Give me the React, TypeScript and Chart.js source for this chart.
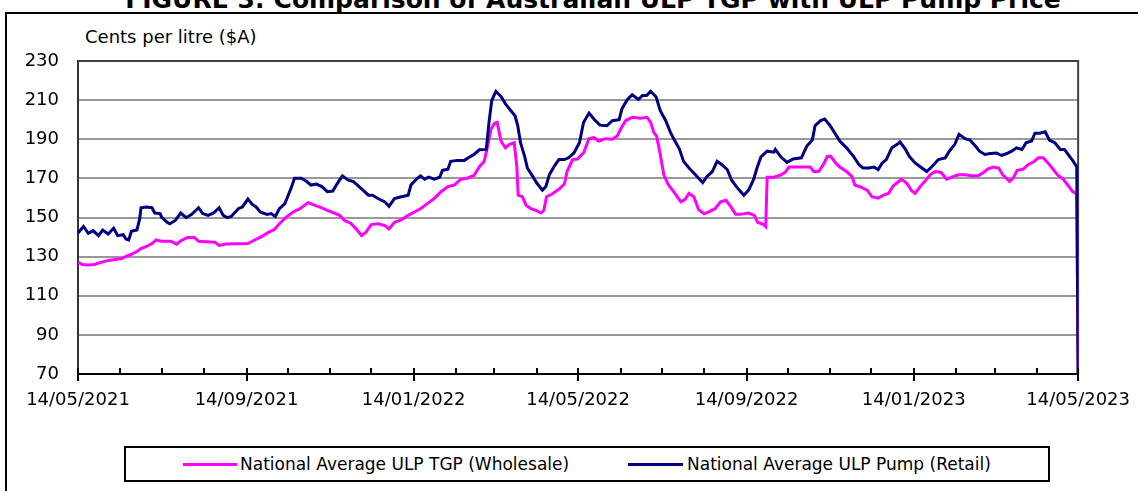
import React, { useEffect, useRef } from 'react';
import { Chart, registerables } from 'chart.js';

Chart.register(...registerables);

const TITLE = 'FIGURE 3: Comparison of Australian ULP TGP with ULP Pump Price';
const Y_TITLE = 'Cents per litre ($A)';
const SERIES_TGP = 'National Average ULP TGP (Wholesale)';
const SERIES_PUMP = 'National Average ULP Pump (Retail)';
const START_DATE = '14/05/2021';

const TICK_LABELS = [
  '14/05/2021', '14/06/2021', '14/07/2021', '14/08/2021', '14/09/2021', '14/10/2021', '14/11/2021',
  '14/12/2021', '14/01/2022', '14/02/2022', '14/03/2022', '14/04/2022', '14/05/2022', '14/06/2022',
  '14/07/2022', '14/08/2022', '14/09/2022', '14/10/2022', '14/11/2022', '14/12/2022', '14/01/2023',
  '14/02/2023', '14/03/2023', '14/04/2023', '14/05/2023',
];
const Y_TICKS = [70, 90, 110, 130, 150, 170, 190, 210, 230];

// Day offsets from 14/05/2021 and cents per litre
const pumpDays = [
  0, 4, 7.5, 11, 15, 18, 22, 26, 29, 33, 35, 37, 39, 43, 45, 46, 50, 54, 56, 60, 61, 65, 67, 71, 75, 79, 83, 88, 91, 95,
  99, 103, 106, 109, 112, 117, 120, 124, 127, 130, 133, 138, 141, 144, 147, 151, 153, 156, 158, 163, 167, 170, 174, 178,
  182, 186, 189, 191, 193, 197, 201, 204, 208, 212, 215, 219, 224, 227, 231, 236, 241, 243, 247, 250, 253, 256, 260, 264,
  266, 270, 272, 277, 282, 286, 289, 293, 298, 300, 302, 305, 309, 312, 316, 319, 321, 323, 326, 328, 332, 335, 339,
  341.5, 344, 347.5, 351, 355, 358, 362, 366, 369, 373, 377, 381, 386, 390, 395, 397, 401, 404.5, 409, 412, 415, 418,
  422, 425, 429, 432.5, 435, 439, 442, 446, 449.5, 453, 456, 459, 463, 466.5, 470, 474, 477, 481, 486, 489.5, 493,
  495.6, 498.5, 503, 508, 509, 513, 517.5, 522, 528, 532, 536, 538, 542, 545, 549, 553, 556, 561, 566, 570, 573, 577,
  581, 584, 587, 590, 594, 598, 600, 604, 607, 611, 615, 619.5, 623, 628, 633, 636.5, 640, 643, 647.5, 651, 655, 658,
  662, 666, 670.5, 674, 678, 681.5, 685, 689, 692, 696, 698.5, 702, 706, 709, 713, 717, 720, 724, 726, 729, 730,
];
const pumpValues = [
  142, 145.4, 141.9, 143.3, 140.7, 143.6, 141.6, 144.5, 140.7, 141.2, 139, 138.5, 143, 143.6, 149.3, 155, 155.4, 155,
  152.3, 152, 150.2, 147.6, 146.8, 148.5, 152.3, 149.9, 151.6, 155, 152, 151.1, 152.3, 155, 151.1, 149.9, 150.6, 154.5,
  155.4, 159.4, 156.8, 155.4, 152.8, 151.6, 152, 150.5, 154.5, 157.1, 160.6, 165.8, 170.1, 170.1, 168.4, 166.6, 167.1,
  165.8, 163.2, 163.5, 167.1, 169.2, 171.3, 169.2, 168.4, 166.6, 164, 161.4, 161.4, 159.7, 158, 155.7, 159.7, 160.6,
  161.4, 166.6, 169.6, 171.3, 169.6, 170.6, 169.6, 170.6, 174.1, 174.7, 178.7, 179.2, 179.2, 181, 182.2, 184.6, 184.8,
  198.6, 209.8, 214.5, 211.6, 208.1, 204.6, 202, 196.9, 188.2, 181.3, 175.3, 170.9, 167.5, 164, 165.8, 171.8, 176.1,
  179.6, 179.6, 180.5, 183, 188.2, 198.6, 203.4, 200, 197.2, 196.9, 199.5, 200, 205.5, 210.3, 212.8, 210.3, 212.4,
  212.4, 214.5, 211.6, 204.6, 199.5, 193.4, 190, 185, 178.7, 175.3, 172.7, 170.1, 167.8, 170.9, 173.5, 178.7, 177,
  174.4, 169.2, 165.4, 161.4, 164, 169.2, 175.3, 181, 183.9, 183.4, 184.8, 181, 178.2, 179.9, 180.5, 186.5, 189.6,
  196.9, 199.5, 200.3, 196.9, 192.5, 189.1, 185.6, 181.3, 177, 175.3, 175.3, 175.8, 174.5, 177.9, 179.6, 185.6, 187.4,
  188.6, 184.8, 181, 177.9, 175.8, 173.5, 175.8, 179.6, 180.5, 184.4, 187.4, 192.5, 190.3, 189.6, 186.5, 183.9, 182.2,
  182.7, 183, 181.7, 182.7, 183.9, 185.6, 184.8, 188.2, 189.1, 193.1, 193.1, 193.8, 189.6, 188.2, 184.8, 184.8, 181,
  179.2, 175.8, 70,
];

const tgpDays = [
  0, 3, 7.5, 12, 16, 20, 24.5, 28, 32, 35.5, 39, 43, 46, 50, 54, 57, 61, 68, 72, 75, 80, 85, 88, 100, 103, 108, 124, 129,
  134, 139, 143.5, 147, 152, 157, 162, 168, 173, 177.5, 182, 187, 191, 194.5, 199, 203, 207, 210, 214, 219, 224, 227,
  231, 236, 241, 245.5, 250, 255, 260, 265, 270, 274.6, 279.5, 284, 289, 293, 296.5, 299, 301.4, 304, 306, 308.7, 312,
  315, 318.4, 320.3, 321.3, 324.4, 327, 330.5, 334, 338, 340, 342, 346, 351, 355, 357, 361, 364.5, 369, 373, 376.6, 380,
  385, 390, 393.6, 396, 399.7, 404.5, 410.6, 415.4, 418, 420.3, 422.3, 425, 427.6, 431, 435, 440, 443, 446, 449.5, 453,
  457, 460, 465, 469, 473, 476.6, 480, 483, 489.5, 493.7, 496, 500.5, 502, 503, 508, 513, 516, 519, 528, 534.5, 537,
  540.6, 544, 547, 549.5, 553, 556, 561, 565, 567, 572, 576, 579.5, 584, 588, 591.6, 595, 599, 601, 605, 608.5, 611,
  614.7, 618, 622, 625.6, 630, 634, 637.7, 642.6, 647.5, 652, 657, 661, 664, 668, 672, 675, 680, 682.6, 685.5, 690,
  693.5, 697, 701, 704.5, 708, 712, 715, 719, 723, 726, 729, 730,
];
const tgpValues = [
  127.2, 126, 125.7, 126, 126.9, 127.7, 128.3, 128.6, 129, 130.3, 131.2, 132.6, 134.1, 135.2, 136.7, 138.5, 137.8,
  137.8, 136.4, 138.1, 139.8, 139.8, 137.8, 137.4, 135.7, 136.4, 136.7, 138.5, 140.2, 142.4, 144, 146.8, 150.2, 152.8,
  154.5, 157.6, 156.2, 155, 153.7, 152.3, 151.1, 148.5, 147.1, 144.2, 140.7, 142.4, 146.4, 146.8, 145.9, 144.2, 147.6,
  148.8, 151.1, 152.8, 154.5, 157.1, 159.7, 163.2, 165.8, 166.6, 169.6, 170.1, 171.5, 176, 178.7, 186.5, 195.1, 198.2,
  198.6, 189.1, 185.6, 187.4, 188.2, 176.1, 161.4, 160.6, 156.3, 154.5, 153.7, 152.3, 153.7, 160.6, 162, 164.4, 167.1,
  173.5, 179.6, 179.9, 183, 190.3, 190.8, 189.1, 190.3, 190, 191.7, 195.1, 199.5, 201.2, 200.7, 201.2, 198.6, 193.4,
  191.7, 182.2, 171.8, 166.6, 163, 158, 159.2, 162.3, 160.6, 154, 151.9, 152.8, 154.5, 158, 158.8, 155.4, 151.6, 151.6,
  152.3, 151.1, 147.6, 146.4, 145.4, 170.6, 170.6, 171.8, 173, 175.8, 175.8, 175.8, 173.5, 173.5, 177, 181.3, 181.3,
  177.9, 175.8, 173.5, 170.9, 166.6, 165.4, 164, 160.6, 159.9, 161.4, 162.3, 166.1, 168.4, 169.6, 167.5, 163.7, 162.3,
  165.8, 168.4, 171.8, 173.5, 173, 169.6, 170.6, 171.8, 171.8, 171.3, 171.3, 173, 174.7, 175.8, 175.3, 171.8, 168.4,
  170.1, 174.1, 174.7, 177, 178.2, 180.5, 180.5, 177.9, 174.4, 171.8, 169.6, 166.1, 163.2, 162, 70,
];

const PUMP_COLOR = '#000080';
const TGP_COLOR = '#FF00FF';
const FONT = "'DejaVu Sans', sans-serif";

function parseDate(s: string): number {
  const [d, m, y] = s.split('/').map(Number);
  return Date.UTC(y, m - 1, d);
}
function dayOffset(s: string): number {
  return Math.round((parseDate(s) - parseDate(START_DATE)) / 86400000);
}

const tickDays = TICK_LABELS.map(dayOffset);
const lastDay = tickDays[tickDays.length - 1];

const framePlugin = {
  id: 'frameTicks',
  beforeDatasetsDraw(chart: any) {
    const { ctx, chartArea } = chart;
    ctx.save();
    ctx.strokeStyle = '#404040';
    ctx.lineWidth = 2;
    ctx.beginPath();
    ctx.moveTo(chartArea.left, chartArea.top);
    ctx.lineTo(chartArea.right, chartArea.top);
    ctx.lineTo(chartArea.right, chartArea.bottom);
    ctx.stroke();
    ctx.restore();
  },
  afterDraw(chart: any) {
    const { ctx, chartArea } = chart;
    const xs = chart.scales.x;
    ctx.save();
    ctx.strokeStyle = '#000';
    ctx.lineWidth = 2;
    tickDays.forEach((d, i) => {
      const px = Math.round(xs.getPixelForValue(d));
      const major = i % 4 === 0;
      ctx.beginPath();
      ctx.moveTo(px, chartArea.bottom - 6);
      ctx.lineTo(px, major ? chartArea.bottom + 7 : chartArea.bottom);
      ctx.stroke();
    });
    ctx.restore();
  },
};

function PriceChart() {
  const ref = useRef<HTMLCanvasElement | null>(null);
  useEffect(() => {
    if (!ref.current) return;
    const chart = new Chart(ref.current, {
      type: 'line',
      data: {
        datasets: [
          {
            label: SERIES_PUMP,
            data: pumpDays.map((d, i) => ({ x: d, y: pumpValues[i] })),
            borderColor: PUMP_COLOR,
            backgroundColor: PUMP_COLOR,
            borderWidth: 3,
            pointRadius: 0,
            tension: 0,
            fill: false,
            order: 0,
          },
          {
            label: SERIES_TGP,
            data: tgpDays.map((d, i) => ({ x: d, y: tgpValues[i] })),
            borderColor: TGP_COLOR,
            backgroundColor: TGP_COLOR,
            borderWidth: 3,
            pointRadius: 0,
            tension: 0,
            fill: false,
            order: 1,
          },
        ],
      },
      options: {
        animation: false,
        responsive: false,
        maintainAspectRatio: false,
        layout: { padding: { left: 0, right: 58, top: 61, bottom: 77 } },
        plugins: { legend: { display: false }, tooltip: { enabled: false }, title: { display: false } },
        scales: {
          x: {
            type: 'linear',
            min: 0,
            max: lastDay,
            afterBuildTicks: (s: any) => {
              s.ticks = tickDays.map((v) => ({ value: v }));
            },
            afterFit: (s: any) => {
              s.height = 40;
            },
            ticks: {
              autoSkip: false,
              maxRotation: 0,
              minRotation: 0,
              padding: 8,
              color: '#000',
              font: { family: FONT, size: 18 },
              callback: (_v: any, i: number) => (i % 4 === 0 ? TICK_LABELS[i] : ''),
            },
            grid: { display: false },
            border: { display: true, color: '#000', width: 2 },
          },
          y: {
            min: 70,
            max: 230,
            afterBuildTicks: (s: any) => {
              s.ticks = Y_TICKS.map((v) => ({ value: v }));
            },
            afterFit: (s: any) => {
              s.width = 78;
            },
            ticks: {
              padding: 19,
              color: '#000',
              font: { family: FONT, size: 18 },
            },
            grid: { color: '#999999', lineWidth: 2, drawTicks: false },
            border: { display: true, color: '#333333', width: 2 },
          },
        },
      },
      plugins: [framePlugin],
    } as any);
    return () => chart.destroy();
  }, []);
  return (
    <canvas
      ref={ref}
      width={1138}
      height={491}
      style={{ position: 'absolute', left: 0, top: 0, width: 1138, height: 491 }}
    />
  );
}

export default function App() {
  return (
    <div
      style={{
        position: 'fixed',
        left: 0,
        top: 0,
        width: 1138,
        height: 491,
        overflow: 'hidden',
        background: '#fff',
        fontFamily: FONT,
        color: '#000',
      }}
    >
      <div
        style={{
          position: 'absolute',
          left: 593,
          top: -13,
          transform: 'translateX(-50%)',
          whiteSpace: 'nowrap',
          fontWeight: 'bold',
          fontSize: 25,
          lineHeight: '25px',
        }}
      >
        {TITLE}
      </div>
      <div
        style={{
          position: 'absolute',
          left: 5,
          top: 12,
          width: 2000,
          height: 2000,
          border: '2px solid #000',
        }}
      />
      <div
        style={{
          position: 'absolute',
          left: 85,
          top: 27,
          fontSize: 18,
          lineHeight: '20px',
          whiteSpace: 'nowrap',
        }}
      >
        {Y_TITLE}
      </div>
      <PriceChart />
      <div
        style={{
          position: 'absolute',
          left: 124,
          top: 446,
          width: 922,
          height: 32,
          border: '2px solid #000',
          background: '#fff',
        }}
      >
        <div style={{ position: 'absolute', left: 57, top: 15, width: 54, height: 3, background: TGP_COLOR }} />
        <div
          style={{ position: 'absolute', left: 114, top: 6, fontSize: 17, lineHeight: '20px', whiteSpace: 'nowrap' }}
        >
          {SERIES_TGP}
        </div>
        <div style={{ position: 'absolute', left: 502, top: 15, width: 55, height: 3, background: PUMP_COLOR }} />
        <div
          style={{ position: 'absolute', left: 561, top: 6, fontSize: 17, lineHeight: '20px', whiteSpace: 'nowrap' }}
        >
          {SERIES_PUMP}
        </div>
      </div>
    </div>
  );
}
